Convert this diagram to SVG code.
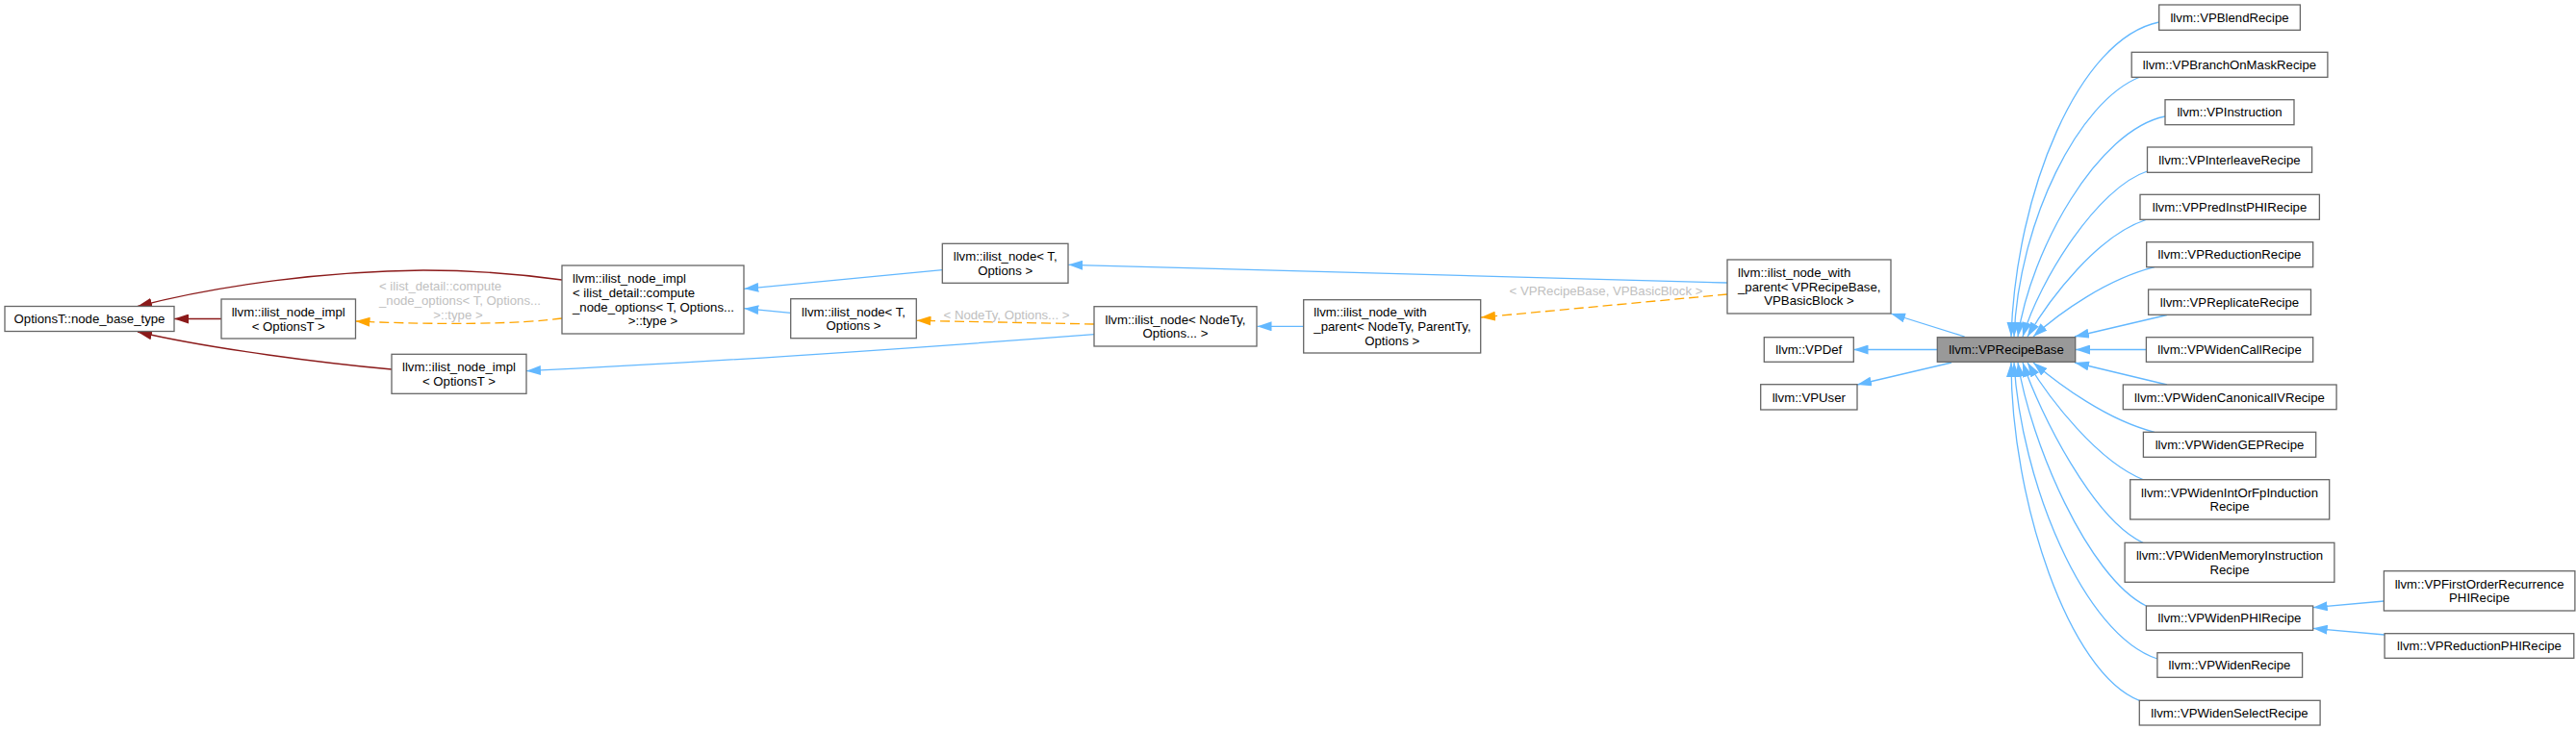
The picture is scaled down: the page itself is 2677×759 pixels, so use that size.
<svg xmlns="http://www.w3.org/2000/svg" width="2677" height="759" viewBox="0 0 2677 759">
<style>
.n rect{fill:#fff;stroke:#666;stroke-width:1.3}
.hl rect{fill:#999}
text{font-family:"Liberation Sans",Arial,Helvetica,sans-serif;font-size:13.2px;fill:#000}
.m{text-anchor:middle}
.e path{fill:none;stroke-width:1.3}
.pub{stroke:#63b8ff;marker-end:url(#mb)}
.priv{stroke:#8b1a1a;marker-end:url(#mr)}
.tpl{stroke:#ffa500;stroke-dasharray:10,5;marker-end:url(#mo)}
.lbl{fill:#c0c0c0}
</style>
<defs>
<marker id="mb" viewBox="0 0 15 10" refX="15" refY="5" markerWidth="15" markerHeight="10" markerUnits="userSpaceOnUse" orient="auto"><path d="M0,0L15,5L0,10z" fill="#63b8ff"/></marker>
<marker id="mr" viewBox="0 0 15 10" refX="15" refY="5" markerWidth="15" markerHeight="10" markerUnits="userSpaceOnUse" orient="auto"><path d="M0,0L15,5L0,10z" fill="#8b1a1a"/></marker>
<marker id="mo" viewBox="0 0 15 10" refX="15" refY="5" markerWidth="15" markerHeight="10" markerUnits="userSpaceOnUse" orient="auto"><path d="M0,0L15,5L0,10z" fill="#ffa500"/></marker>
</defs>
<rect width="2677" height="759" fill="#fff"/>
<g id="edges" class="e">
<path class="priv" d="M584,291 C540,285 490,281 440,281 C340,282 230,296 143,318.5"/>
<path class="priv" d="M230,331.5 L181,331.5"/>
<path class="priv" d="M407,384 C340,378 220,363 143,345"/>
<path class="tpl" d="M584,331 C540,337 460,338 369.5,334"/>
<path class="tpl" d="M1137,337 L952.5,333.3"/>
<path class="tpl" d="M1795,306 L1539,330"/>
<path class="pub" d="M979.3,280.7 L773.3,300.3"/>
<path class="pub" d="M821.7,325.3 L773.3,320.7"/>
<path class="pub" d="M1137,347.7 C950,362 750,376 547,385.7"/>
<path class="pub" d="M1355,339.3 L1306.5,339.3"/>
<path class="pub" d="M1795,294 L1110.3,275.3"/>
<path class="pub" d="M2041.7,350 L1965,326"/>
<path class="pub" d="M2013.3,363.5 L1926.5,363.5"/>
<path class="pub" d="M2028,377 L1930,400"/>
<path class="pub" d="M2243.7,23 C2160,40 2095,200 2090,350"/>
<path class="pub" d="M2224,80 C2160,105 2098,230 2093,350"/>
<path class="pub" d="M2250,121 C2180,135 2110,260 2097,350"/>
<path class="pub" d="M2231.5,178 C2180,195 2120,290 2102,350"/>
<path class="pub" d="M2230,228.5 C2180,245 2130,310 2107,350"/>
<path class="pub" d="M2239,277.7 C2190,290 2140,325 2113,350"/>
<path class="pub" d="M2252,327.5 L2156,350"/>
<path class="pub" d="M2230.4,363.5 L2157,363.5"/>
<path class="pub" d="M2252,400 L2156,377"/>
<path class="pub" d="M2239,449.3 C2190,437 2140,400 2113,377"/>
<path class="pub" d="M2228,499 C2180,480 2130,415 2107,377"/>
<path class="pub" d="M2227,564.3 C2175,540 2120,430 2102,377"/>
<path class="pub" d="M2230.4,630 C2170,600 2110,460 2097,377"/>
<path class="pub" d="M2242,685 C2165,660 2100,500 2093,377"/>
<path class="pub" d="M2223.3,728.3 C2150,700 2090,520 2090,377"/>
<path class="pub" d="M2477.4,625 L2403.7,631.7"/>
<path class="pub" d="M2478.1,660 L2403.7,653.3"/>
</g>
<g id="edge-labels">
<text class="lbl" x="394" y="301.7">&lt; ilist_detail::compute</text>
<text class="lbl" x="394" y="316.7">_node_options&lt; T, Options...</text>
<text class="lbl m" x="476" y="331.7">&gt;::type &gt;</text>
<text class="lbl m" x="1046" y="331.7">&lt; NodeTy, Options... &gt;</text>
<text class="lbl m" x="1669" y="306.8">&lt; VPRecipeBase, VPBasicBlock &gt;</text>
</g>
<g id="node_base" class="n"><rect x="5" y="318.5" width="176" height="26"/><text class="m" x="93" y="336.2">OptionsT::node_base_type</text></g>
<g id="node_impl_a" class="n"><rect x="230" y="311" width="139.5" height="41"/><text class="m" x="299.7" y="328.9">llvm::ilist_node_impl</text><text class="m" x="299.7" y="343.5">&lt; OptionsT &gt;</text></g>
<g id="node_impl_c" class="n"><rect x="407" y="368.3" width="140" height="41"/><text class="m" x="477" y="386.2">llvm::ilist_node_impl</text><text class="m" x="477" y="400.8">&lt; OptionsT &gt;</text></g>
<g id="node_impl_b" class="n"><rect x="584" y="276" width="189" height="71"/><text x="595" y="294.2">llvm::ilist_node_impl</text><text x="595" y="308.9">&lt; ilist_detail::compute</text><text x="595" y="323.5">_node_options&lt; T, Options...</text><text class="m" x="678.5" y="338.2">&gt;::type &gt;</text></g>
<g id="node_ilist_d" class="n"><rect x="979.3" y="253.3" width="130.7" height="41"/><text class="m" x="1044.7" y="271.2">llvm::ilist_node&lt; T,</text><text class="m" x="1044.7" y="285.8">Options &gt;</text></g>
<g id="node_ilist_e" class="n"><rect x="821.7" y="310.7" width="130.6" height="41"/><text class="m" x="887" y="328.6">llvm::ilist_node&lt; T,</text><text class="m" x="887" y="343.2">Options &gt;</text></g>
<g id="node_ilist_f" class="n"><rect x="1137" y="318.7" width="169" height="41.3"/><text class="m" x="1221.5" y="336.7">llvm::ilist_node&lt; NodeTy,</text><text class="m" x="1221.5" y="351.3">Options... &gt;</text></g>
<g id="node_wp_g" class="n"><rect x="1354.7" y="311.7" width="184" height="55.3"/><text x="1365.3" y="329.3">llvm::ilist_node_with</text><text x="1365.3" y="344">_parent&lt; NodeTy, ParentTy,</text><text class="m" x="1446.7" y="358.7">Options &gt;</text></g>
<g id="node_wp_h" class="n"><rect x="1795" y="270" width="170" height="56"/><text x="1806" y="288">llvm::ilist_node_with</text><text x="1806" y="302.7">_parent&lt; VPRecipeBase,</text><text class="m" x="1880" y="317.3">VPBasicBlock &gt;</text></g>
<g id="node_vpdef" class="n"><rect x="1833.3" y="350.7" width="93" height="25.6"/><text class="m" x="1879.8" y="368.2">llvm::VPDef</text></g>
<g id="node_vpuser" class="n"><rect x="1829.7" y="399.7" width="100.3" height="26.3"/><text class="m" x="1879.8" y="417.5">llvm::VPUser</text></g>
<g id="node_recipebase" class="n hl"><rect x="2013.3" y="350.7" width="143.4" height="25.6"/><text class="m" x="2085" y="368.2">llvm::VPRecipeBase</text></g>
<g id="node_blend" class="n"><rect x="2243.7" y="5" width="146.7" height="26.3"/><text class="m" x="2317" y="22.9">llvm::VPBlendRecipe</text></g>
<g id="node_branch" class="n"><rect x="2215.2" y="54.3" width="203.7" height="26"/><text class="m" x="2317" y="72">llvm::VPBranchOnMaskRecipe</text></g>
<g id="node_instruction" class="n"><rect x="2250" y="103.7" width="134" height="26"/><text class="m" x="2317" y="121.4">llvm::VPInstruction</text></g>
<g id="node_interleave" class="n"><rect x="2231.5" y="153" width="171.1" height="26.3"/><text class="m" x="2317" y="170.9">llvm::VPInterleaveRecipe</text></g>
<g id="node_predinst" class="n"><rect x="2224" y="202.3" width="186.4" height="26"/><text class="m" x="2317" y="220">llvm::VPPredInstPHIRecipe</text></g>
<g id="node_reduction" class="n"><rect x="2230.7" y="251.7" width="173" height="26"/><text class="m" x="2317" y="269.4">llvm::VPReductionRecipe</text></g>
<g id="node_replicate" class="n"><rect x="2232.6" y="301" width="168.9" height="26.3"/><text class="m" x="2317" y="318.9">llvm::VPReplicateRecipe</text></g>
<g id="node_widencall" class="n"><rect x="2230.4" y="350.7" width="173.3" height="25.6"/><text class="m" x="2317" y="368.1">llvm::VPWidenCallRecipe</text></g>
<g id="node_canonicaliv" class="n"><rect x="2206.3" y="400" width="221.8" height="25.7"/><text class="m" x="2317" y="417.6">llvm::VPWidenCanonicalIVRecipe</text></g>
<g id="node_gep" class="n"><rect x="2227.4" y="449.3" width="179.3" height="26"/><text class="m" x="2317" y="467">llvm::VPWidenGEPRecipe</text></g>
<g id="node_intorfp" class="n"><rect x="2213.7" y="498.7" width="207" height="41.3"/><text class="m" x="2317" y="516.7">llvm::VPWidenIntOrFpInduction</text><text class="m" x="2317" y="531.3">Recipe</text></g>
<g id="node_memory" class="n"><rect x="2208.1" y="564.3" width="217.8" height="41"/><text class="m" x="2317" y="582.2">llvm::VPWidenMemoryInstruction</text><text class="m" x="2317" y="596.8">Recipe</text></g>
<g id="node_phi" class="n"><rect x="2230.4" y="630" width="173.3" height="25.3"/><text class="m" x="2317" y="647.4">llvm::VPWidenPHIRecipe</text></g>
<g id="node_widen" class="n"><rect x="2241.9" y="678.7" width="150.7" height="25.6"/><text class="m" x="2317" y="696.2">llvm::VPWidenRecipe</text></g>
<g id="node_select" class="n"><rect x="2223.3" y="728.3" width="187.8" height="25.7"/><text class="m" x="2317" y="745.9">llvm::VPWidenSelectRecipe</text></g>
<g id="node_firstorder" class="n"><rect x="2477.4" y="593.7" width="198.5" height="41.3"/><text class="m" x="2576.6" y="611.7">llvm::VPFirstOrderRecurrence</text><text class="m" x="2576.6" y="626.3">PHIRecipe</text></g>
<g id="node_reductionphi" class="n"><rect x="2478.1" y="658.7" width="196.7" height="25.6"/><text class="m" x="2576.5" y="676.2">llvm::VPReductionPHIRecipe</text></g>
</svg>
